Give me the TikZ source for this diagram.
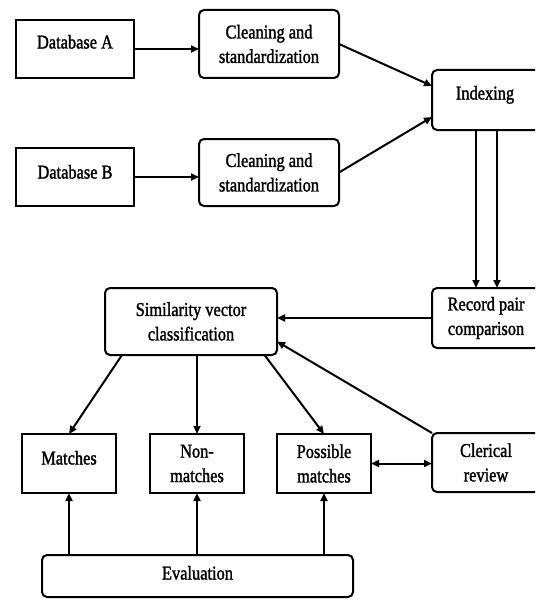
\documentclass[tikz,border=0pt]{standalone}
\usepackage{fontspec}
\setmainfont{Liberation Serif}[FakeStretch=0.84,FakeBold=1.5]
\usetikzlibrary{arrows.meta}
\begin{document}
\begin{tikzpicture}[x=1pt,y=-1pt,
  font=\fontsize{19.5}{24.5}\selectfont,
  every node/.style={inner sep=0pt,outer sep=0pt},
  sq/.style={draw,line width=2pt,rectangle},
  rd/.style={draw,line width=2pt,rectangle,rounded corners=5pt},
  txt/.style={align=center,text height=13pt,text depth=0pt},
  arr/.style={line width=2pt,-{Triangle[length=8pt,width=7pt]}},
  darr/.style={line width=2pt,{Triangle[length=8pt,width=7pt]}-{Triangle[length=8pt,width=7pt]}}]
\fill[white] (0,0) rectangle (535,599);
\useasboundingbox (0,0) rectangle (535,599);
\clip (0,0) rectangle (535,599);
% boxes
\node[sq,minimum width=118pt,minimum height=58pt] (dba) at (75,49) {};
\node[txt] (dbat) at (75,42) {Database A};
\node[sq,minimum width=118pt,minimum height=58pt] (dbb) at (75,177) {};
\node[txt] (dbbt) at (75,172) {Database B};
\node[rd,minimum width=140pt,minimum height=68pt,align=center] (cla) at (269,44) {Cleaning and\\standardization};
\node[rd,minimum width=140pt,minimum height=67pt,align=center] (clb) at (269,172.5) {Cleaning and\\standardization};
\node[rd,minimum width=108pt,minimum height=60pt] (idx) at (486,100) {};
\node[txt] (idxt) at (485,93) {Indexing};
\node[rd,minimum width=108pt,minimum height=60pt,align=center] (rec) at (486,318) {Record pair\\comparison};
\node[rd,minimum width=172pt,minimum height=67pt,align=center] (sim) at (191,321.5) {Similarity vector\\classification};
\node[sq,minimum width=94pt,minimum height=59pt] (mat) at (69,463.5) {};
\node[txt] (matt) at (69,458) {Matches};
\node[sq,minimum width=94pt,minimum height=59pt,align=center] (non) at (197,463.5) {Non-\\matches};
\node[sq,minimum width=94pt,minimum height=59pt,align=center] (pos) at (324,463.5) {Possible\\matches};
\node[rd,minimum width=108pt,minimum height=59pt,align=center] (cle) at (486,462.5) {Clerical\\review};
\node[rd,minimum width=311pt,minimum height=42pt] (eva) at (197.5,576) {};
\node[txt] (evat) at (197.5,573) {Evaluation};
% connectors
\draw[arr] (dba.east) -- (dba.east -| cla.west);
\draw[arr] (dbb.east) -- (dbb.east -| clb.west);
\draw[arr] (cla.east) -- ([yshift=14pt]idx.west);
\draw[arr] (clb.east) -- ([yshift=-17pt]idx.west);
\draw[arr] ([xshift=-10pt]idx.south) -- ([xshift=-10pt]rec.north);
\draw[arr] ([xshift=11pt]idx.south) -- ([xshift=11pt]rec.north);
\draw[arr] (rec.west) -- (rec.west -| sim.east);
\draw[arr] ([xshift=17pt]sim.south west) -- (mat.north);
\draw[arr] (non.north |- sim.south) -- (non.north);
\draw[arr] ([xshift=-12.5pt]sim.south east) -- (pos.north);
\draw[arr] (cle.north west) -- ([yshift=-20pt]sim.east);
\draw[darr] (pos.east) -- (pos.east -| cle.west);
\draw[arr] (eva.north -| mat.south) -- (mat.south);
\draw[arr] (eva.north -| non.south) -- (non.south);
\draw[arr] (eva.north -| pos.south) -- (pos.south);
\end{tikzpicture}
\end{document}
